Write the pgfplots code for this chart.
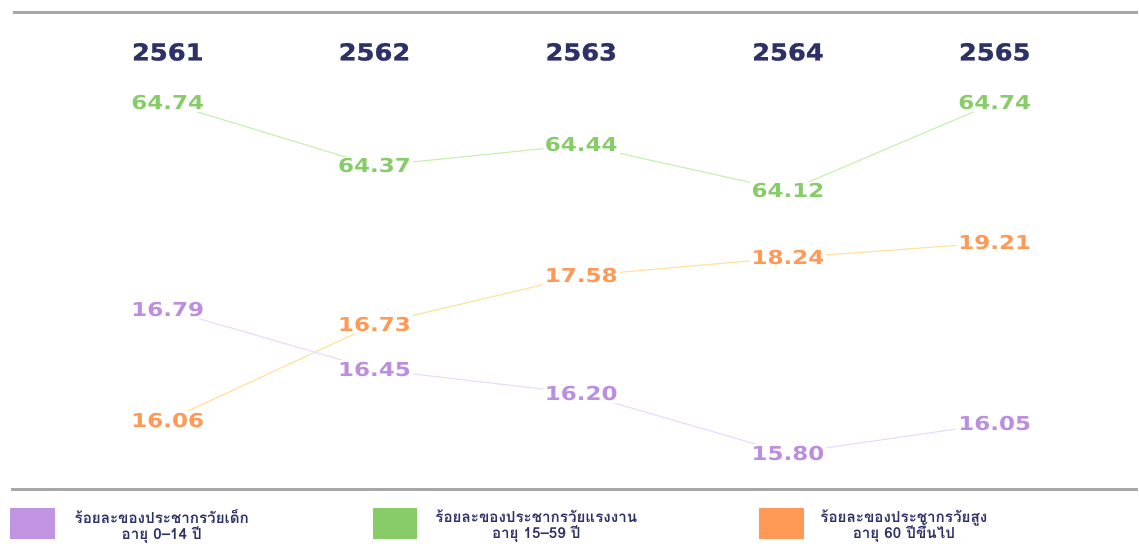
\documentclass[border=0pt]{standalone}
\usepackage{pgfplots}
\pgfplotsset{compat=1.18}
\usepackage{pgfplotstable}
\usepackage{fontspec}
\setmainfont{DejaVu Sans}
\newfontfamily\valfamily[FakeStretch=1.2]{DejaVu Sans Bold}
\newfontfamily\yearfamily[FakeStretch=1.1, FakeBold=1.2]{DejaVu Sans Bold}
\newfontfamily\thaifont[Script=Thai]{Loma}
\newcommand\legfont{\thaifont\bfseries\fontsize{7.6pt}{8.2pt}\selectfont\lineskiplimit=-20pt\relax}
\definecolor{navy}{HTML}{2E3166}
\definecolor{gL}{HTML}{88CC6A}
\definecolor{oL}{HTML}{FF9955}
\definecolor{pL}{HTML}{BB8FDD}
\definecolor{gLine}{HTML}{C9EFB3}
\definecolor{oLine}{HTML}{FFE2A0}
\definecolor{pLine}{HTML}{EADCFA}
\definecolor{pBox}{HTML}{C094E0}
\definecolor{gBox}{HTML}{88CC6A}
\definecolor{oBox}{HTML}{FF9955}
\definecolor{rule}{HTML}{A8A8A8}
% y = vertical position of the point in the chart (rows from the top), label = value
\pgfplotstableread{
x y label
2561 103 64.74
2562 166 64.37
2563 145 64.44
2564 191 64.12
2565 103 64.74
}\working
\pgfplotstableread{
x y label
2561 421 16.06
2562 325 16.73
2563 276 17.58
2564 258 18.24
2565 243 19.21
}\elderly
\pgfplotstableread{
x y label
2561 310 16.79
2562 370 16.45
2563 394 16.20
2564 454 15.80
2565 424 16.05
}\children
\begin{document}
\begin{tikzpicture}
\begin{axis}[scale only axis, width=569.5pt, height=270pt,
  xmin=2560.1884, xmax=2565.6908, ymin=0, ymax=540, y dir=reverse,
  hide axis, clip=false]
\path (axis cs:2560.1884,0) rectangle (axis cs:2565.6908,540);
% rules
\draw[rule, line width=1.5pt] (axis cs:2560.25,13) -- (axis cs:2565.6908,13);
\draw[rule, line width=1.5pt] (axis cs:2560.24,490) -- (axis cs:2565.6908,490);
% years
\foreach \yr in {2561,2562,2563,2564,2565}{
  \edef\tmp{\noexpand\node[text=navy, font=\noexpand\yearfamily\noexpand\fontsize{11.7pt}{13pt}\noexpand\selectfont] at (axis cs:\yr,52) {\yr};}
  \tmp
}
% lines
\addplot[gLine, line width=0.6pt, mark=none] table[x=x,y=y] {\working};
\addplot[oLine, line width=0.6pt, mark=none] table[x=x,y=y] {\elderly};
\addplot[pLine, line width=0.6pt, mark=none] table[x=x,y=y] {\children};
% labels
\pgfplotsset{lbl/.style={draw=none, mark=none, nodes near coords, point meta=explicit symbolic,
  every node near coord/.append style={anchor=center, fill=white, inner sep=1pt, text=#1,
  font=\valfamily\fontsize{9.6pt}{11pt}\selectfont}}}
\addplot[lbl=gL] table[x=x,y=y,meta=label] {\working};
\addplot[lbl=oL] table[x=x,y=y,meta=label] {\elderly};
\addplot[lbl=pL] table[x=x,y=y,meta=label] {\children};
% legend
\fill[pBox] (axis cs:{2560.1884+10/207},509) rectangle (axis cs:{2560.1884+55/207},540);
\fill[gBox] (axis cs:{2560.1884+373/207},509) rectangle (axis cs:{2560.1884+418/207},540);
\fill[oBox] (axis cs:{2560.1884+760/207},509) rectangle (axis cs:{2560.1884+805/207},540);
\tikzset{leg/.style={text=navy, align=center, inner sep=0pt, font=\legfont}}
\node[leg] at (axis cs:{2560.1884+162/207},527) {ร้อยละของประชากรวัยเด็ก\\อายุ 0–14 ปี};
\node[leg] at (axis cs:{2560.1884+537/207},527) {ร้อยละของประชากรวัยแรงงาน\\อายุ 15–59 ปี};
\node[leg] at (axis cs:{2560.1884+905/207},527) {ร้อยละของประชากรวัยสูง\\อายุ 60 ปีขึ้นไป};
\end{axis}
\end{tikzpicture}
\end{document}
